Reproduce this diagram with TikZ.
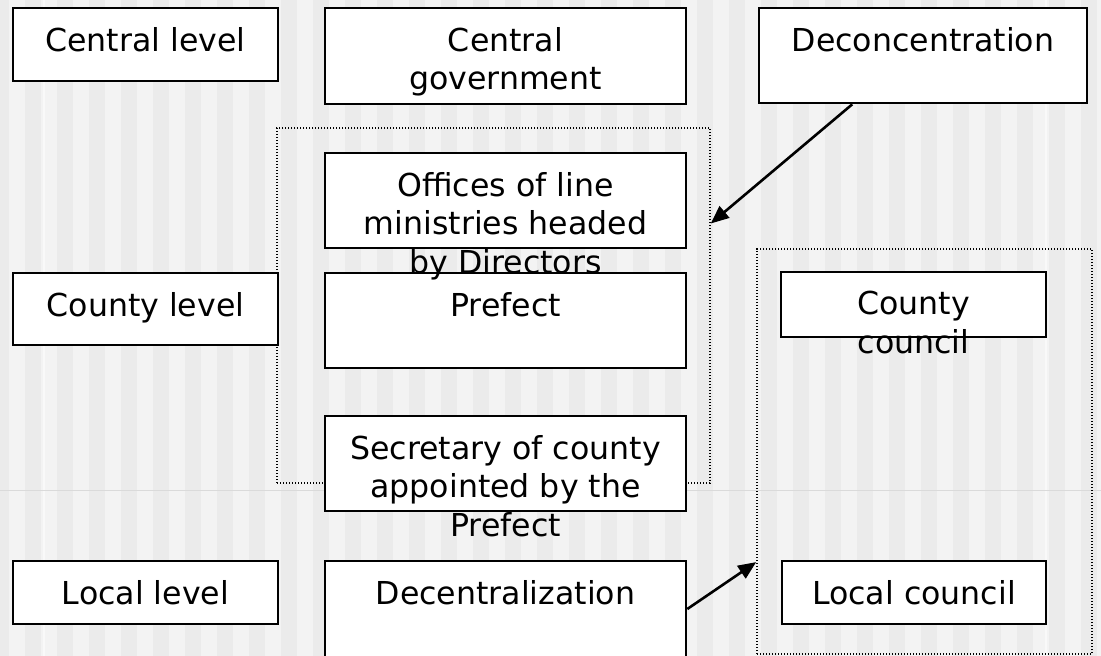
\documentclass[tikz,border=0pt]{standalone}
\usepackage{fontspec}
\setmainfont{DejaVu Sans}
\usetikzlibrary{arrows.meta,calc}
\definecolor{bgdark}{HTML}{EBEBEB}
\definecolor{bglight}{HTML}{F3F3F3}
\definecolor{bgline}{HTML}{DADADA}
\definecolor{bgvline}{HTML}{F9F9F9}
\tikzset{
  px/.style={x=1pt,y=-1pt},
  boxnode/.style={draw=black,line width=2.6pt,fill=white,rectangle,inner sep=0pt},
  dotbox/.style={draw=black,line width=1.6pt,dash pattern=on 1.2pt off 1.8pt,rectangle,inner sep=0pt},
  txt/.style={font=\fontsize{31.6}{38.5}\selectfont,align=center,inner sep=0pt,anchor=north,text=black},
  conn/.style={draw=black,line width=2.6pt,-{Triangle[length=18pt,width=15pt]}}
}
\newcommand{\boxat}[5]{% name, x1, y1, x2, y2
  \node[boxnode,minimum width={(#4-#2)*1pt},minimum height={(#5-#3)*1pt}] (#1) at ({(#2+#4)/2},{(#3+#5)/2}) {};}
\newcommand{\dotat}[5]{%
  \node[dotbox,minimum width={(#4-#2)*1pt},minimum height={(#5-#3)*1pt}] (#1) at ({(#2+#4)/2},{(#3+#5)/2}) {};}
\begin{document}
\begin{tikzpicture}[px]
\useasboundingbox (0,0) rectangle (1101,656);
% background
\fill[bgdark] (0,0) rectangle (1101,656);
\foreach \k in {0,...,34} {
  \fill[bglight] ({9+32*\k},0) rectangle ({25+32*\k},656);
}
\draw[bgvline,line width=1.5pt] (44,0) -- (44,656);
\draw[bgvline,line width=1.5pt] (1046,0) -- (1046,656);
\draw[bgline,line width=1pt] (0,490) -- (1101,490);

% dotted group frames
\dotat{grp1}{277}{128}{710}{483}
\dotat{grp2}{757}{249}{1092}{654}

% boxes
\boxat{cl}{13}{8}{278}{81}
\boxat{cg}{325}{8}{686}{104}
\boxat{dc}{759}{8}{1087}{103}
\boxat{off}{325}{153}{686}{248}
\boxat{col}{13}{273}{278}{345}
\boxat{pre}{325}{273}{686}{368}
\boxat{sec}{325}{416}{686}{511}
\boxat{cc}{781}{272}{1046}{337}
\boxat{ll}{13}{561}{278}{624}
\boxat{dec}{325}{561}{686}{657}
\boxat{lc}{782}{561}{1046}{624}

% texts (top-anchored, overflowing like the original)
\node[txt] (cl-t) at ([yshift=-20.5pt]cl.north) {Central level};
\node[txt] (cg-t) at ([yshift=-20.5pt]cg.north) {Central\\government};
\node[txt] (dc-t) at ([yshift=-20.5pt]dc.north) {Deconcentration};
\node[txt] (off-t) at ([yshift=-20.5pt]off.north) {Offices of line\\ministries headed\\by Directors};
\node[txt] (col-t) at ([yshift=-20.5pt]col.north) {County level};
\node[txt] (pre-t) at ([yshift=-20.5pt]pre.north) {Prefect};
\node[txt] (sec-t) at ([yshift=-20.5pt]sec.north) {Secretary of county\\appointed by the\\Prefect};
\node[txt] (cc-t) at ([yshift=-20.5pt]cc.north) {County\\council};
\node[txt] (ll-t) at ([yshift=-20.5pt]ll.north) {Local level};
\node[txt] (dec-t) at ([yshift=-20.5pt]dec.north) {Decentralization};
\node[txt] (lc-t) at ([yshift=-20.5pt]lc.north) {Local council};

% connectors
\draw[conn] ($(dc.south west)!0.286!(dc.south east)$) -- ($(grp1.north east)!0.27!(grp1.south east)$);
\draw[conn] (dec.east) -- ($(grp2.north west)!0.772!(grp2.south west)$);
\end{tikzpicture}
\end{document}
